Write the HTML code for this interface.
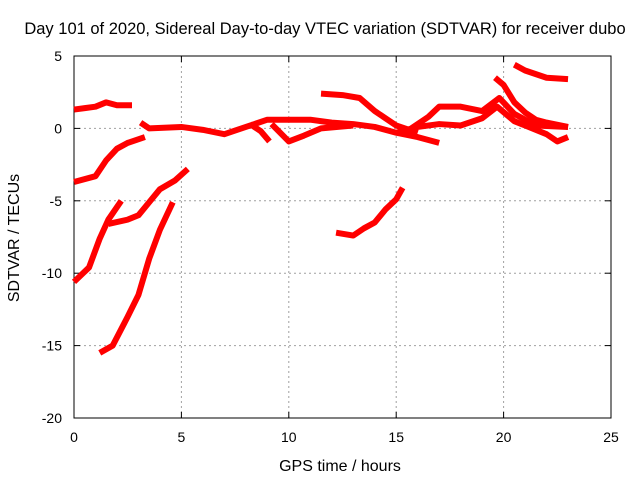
<!DOCTYPE html>
<html><head><meta charset="utf-8"><style>
body{margin:0;background:#fff}
svg{display:block;font-family:"Liberation Sans",sans-serif}
</style></head><body>
<svg id="c" width="640" height="480"></svg>
<script>
const xTicks=[0,5,10,15,20,25];
const yTicks=[5,0,-5,-10,-15,-20];
const seriesA=[[0,1.3],[0.5,1.4],[1,1.5],[1.5,1.8],[2,1.6],[2.7,1.6]];
const seriesB=[[0,-3.7],[1,-3.3],[1.5,-2.2],[2,-1.4],[2.5,-1.0],[3.3,-0.6]];
const seriesC1=[[0,-10.6],[0.7,-9.6],[1.2,-7.6],[1.6,-6.3],[2.2,-5.0]];
const seriesC2=[[1.6,-6.6],[2.5,-6.3],[3,-6.0],[3.5,-5.1],[4,-4.2],[4.7,-3.6],[5.3,-2.8]];
const seriesD=[[1.2,-15.5],[1.8,-15.0],[2.5,-13.0],[3,-11.5],[3.5,-9.0],[4,-7.0],[4.6,-5.1]];
const seriesMain=[[3.1,0.4],[3.5,0],[5,0.1],[6,-0.1],[7,-0.4],[8,0.1],[9,0.6],[10,0.6],[11,0.6],[12,0.4],[13,0.3],[14,0.1],[15,-0.3],[16,-0.6],[17,-1.0]];
const seriesLowSpur=[[8.2,0.3],[8.7,-0.2],[9.1,-0.9]];
const seriesLow10=[[9.2,0.3],[10,-0.9],[10.7,-0.5],[11.5,0],[13,0.2]];
const seriesUpper=[[15.5,-0.2],[16.5,0.8],[17,1.5],[18,1.5],[19,1.2],[19.8,2.1],[20.5,1.0],[21.5,0.2],[23,0.1]];
const seriesLower=[[15,-0.3],[16,0.1],[17,0.3],[18,0.2],[19,0.7],[19.7,1.5],[20.5,0.5],[21,0.2],[22,-0.4],[22.5,-0.9],[23,-0.6]];
const seriesArc=[[11.5,2.4],[12.5,2.3],[13.3,2.1],[14,1.2],[15,0.2],[16,-0.3]];
const seriesE=[[12.2,-7.2],[13,-7.4],[13.5,-6.9],[14,-6.5],[14.5,-5.6],[15,-4.9],[15.3,-4.1]];
const seriesF=[[20.5,4.4],[21,4.0],[22,3.5],[23,3.4]];
const seriesG=[[19.6,3.5],[20,3.0],[20.5,1.8],[21,1.1],[21.5,0.6],[22,0.4],[23,0.1]];
const allSeries=[seriesA,seriesB,seriesC1,seriesC2,seriesD,seriesMain,seriesLowSpur,seriesLow10,seriesUpper,seriesLower,seriesArc,seriesE,seriesF,seriesG];
const L=74,R=611,T=56,B=418;
const xs=v=>L+(v-0)/25*(R-L);
const ys=v=>T+(5-v)/25*(B-T);
const svg=document.getElementById('c');
const NS='http://www.w3.org/2000/svg';
function mk(t,a){const e=document.createElementNS(NS,t);for(const k in a)e.setAttribute(k,a[k]);svg.appendChild(e);return e;}
xTicks.forEach(v=>{
 if(v>0&&v<25){const g=mk('line',{x1:xs(v),x2:xs(v),y1:T,y2:B,stroke:'#a0a0a0','stroke-dasharray':'2,3'});
 }
 mk('line',{x1:xs(v),x2:xs(v),y1:B,y2:B-6,stroke:'#000'});mk('line',{x1:xs(v),x2:xs(v),y1:T,y2:T+6,stroke:'#000'});
 const t=mk('text',{x:xs(v),y:B+24,'text-anchor':'middle','font-size':14});t.textContent=v;
 
});
yTicks.forEach(v=>{
 if(v<5&&v>-20){const g=mk('line',{x1:L,x2:R,y1:ys(v),y2:ys(v),stroke:'#a0a0a0','stroke-dasharray':'2,3'});
 }
 mk('line',{x1:L,x2:L+6,y1:ys(v),y2:ys(v),stroke:'#000'});mk('line',{x1:R,x2:R-6,y1:ys(v),y2:ys(v),stroke:'#000'});
 const t=mk('text',{x:L-12,y:ys(v)+5,'text-anchor':'end','font-size':14});t.textContent=v;
 
});
const fr=mk('rect',{x:L,y:T,width:R-L,height:B-T,fill:'none',stroke:'#000'});

allSeries.forEach(s=>{
 const p=mk('polyline',{points:s.map(d=>xs(d[0])+','+ys(d[1])).join(' '),fill:'none',stroke:'#ff0000','stroke-width':6,'stroke-linejoin':'round'});
 
});
let t=mk('text',{x:325,y:34,'text-anchor':'middle','font-size':16.5});t.textContent='Day 101 of 2020, Sidereal Day-to-day VTEC variation (SDTVAR) for receiver dubo';

t=mk('text',{x:340,y:471,'text-anchor':'middle','font-size':16});t.textContent='GPS time / hours';

t=mk('text',{x:19,y:238,'text-anchor':'middle','font-size':16,transform:'rotate(-90 19 238)'});t.textContent='SDTVAR / TECUs';

</script>
</body></html>
